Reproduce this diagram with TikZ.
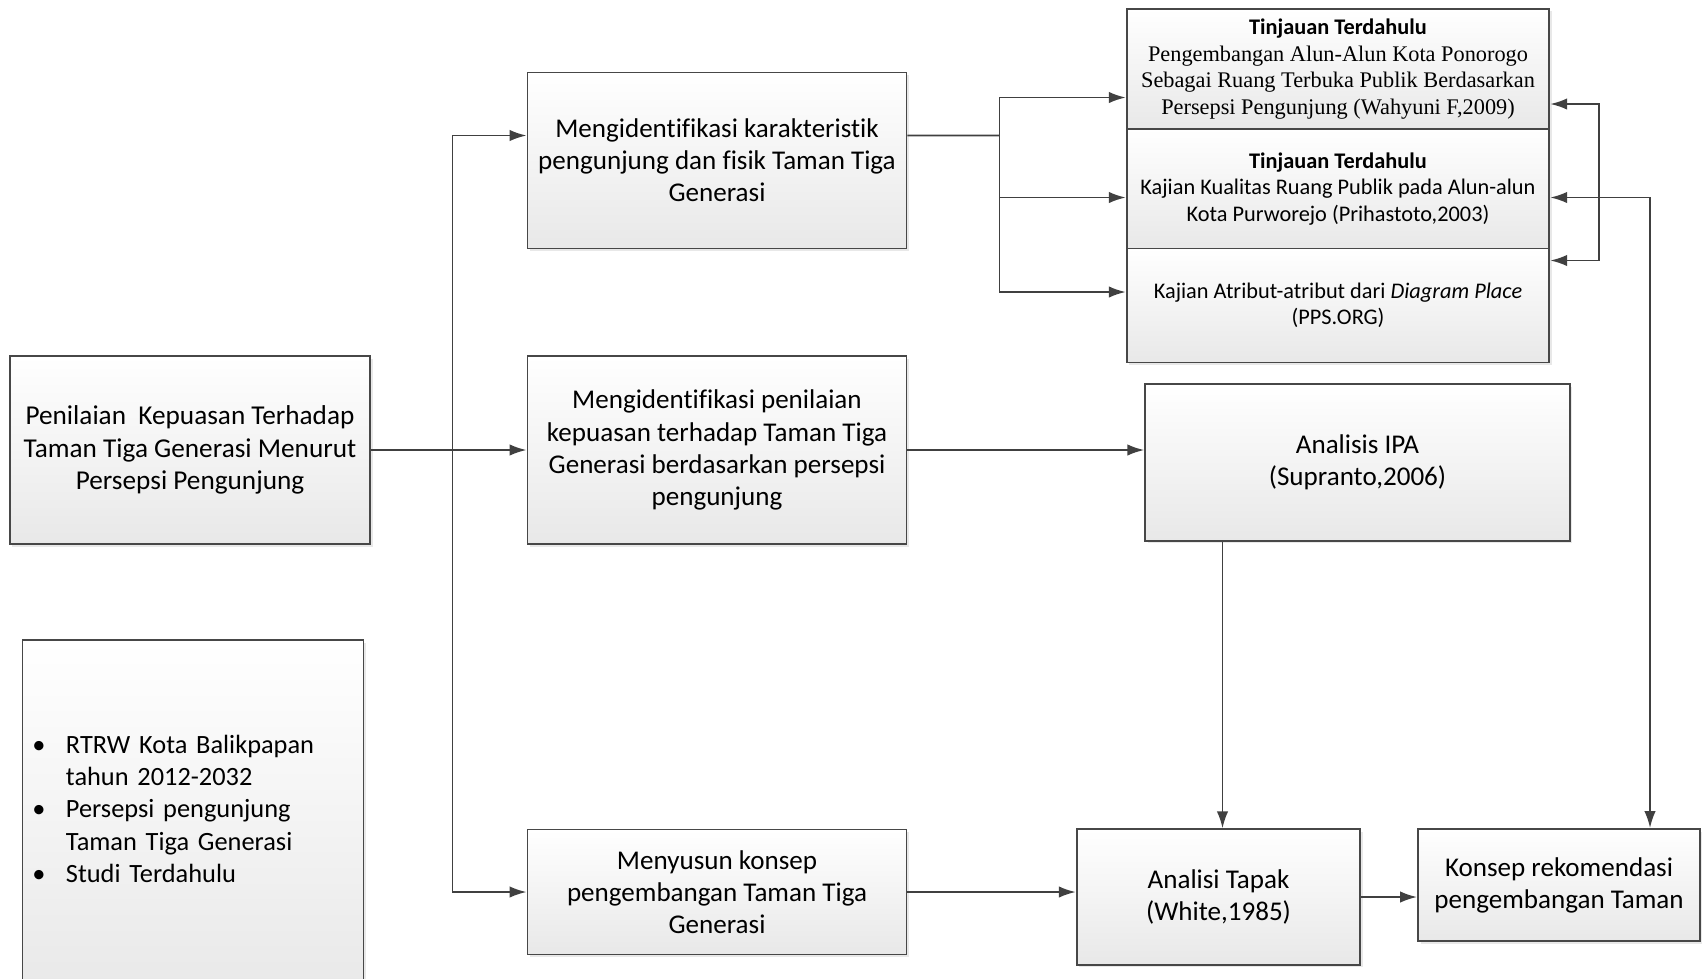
\documentclass[tikz,border=0pt]{standalone}
\usepackage{fontspec}
\setmainfont{Carlito}[Ligatures=NoCommon]
\newfontfamily\timesfont{Liberation Serif}
\usetikzlibrary{arrows.meta,shadows}

\tikzset{
  box/.style={draw=black!72, line width=1.1pt, top color=white, bottom color=black!9,
    inner sep=0pt, align=center, drop shadow={opacity=0.18, shadow xshift=0.05cm, shadow yshift=-0.05cm},
    font=\fontsize{15.4}{18.3}\selectfont},
  smallbox/.style={box, font=\fontsize{12.7}{15.1}\selectfont},
  arr/.style={draw=black!75, line width=1.1pt, -{Latex[length=0.34cm,width=0.23cm]}},
  twoarr/.style={draw=black!75, line width=1.1pt, {Latex[length=0.34cm,width=0.23cm]}-{Latex[length=0.34cm,width=0.23cm]}},
  line/.style={draw=black!75, line width=1.1pt}
}

\begin{document}
\begin{tikzpicture}
\useasboundingbox (0,0) rectangle (34.04,-19.56);
\node[box, minimum width=7.21cm, minimum height=3.76cm, font=\fontsize{15.5}{18.3}\selectfont] (A) at (3.80,-9.00) {Penilaian\ \ Kepuasan Terhadap\\Taman Tiga Generasi Menurut\\Persepsi Pengunjung};
\node[box, minimum width=6.82cm, minimum height=7.19cm, align=left, text width=6.42cm, text depth=3.02cm, font=\fontsize{15}{18.3}\selectfont] (B) at (3.86,-16.40) {\makebox[0.67cm][l]{\textbullet}RTRW Kota Balikpapan\\\hspace*{0.67cm}tahun 2012-2032\\\makebox[0.67cm][l]{\textbullet}Persepsi pengunjung\\\hspace*{0.67cm}Taman Tiga Generasi\\\makebox[0.67cm][l]{\textbullet}Studi Terdahulu};
\node[box, minimum width=7.58cm, minimum height=3.52cm] (C) at (14.34,-3.21) {Mengidentifikasi karakteristik\\pengunjung dan fisik Taman Tiga\\Generasi};
\node[box, minimum width=7.58cm, minimum height=3.76cm] (D) at (14.34,-9.00) {Mengidentifikasi penilaian\\kepuasan terhadap Taman Tiga\\Generasi berdasarkan persepsi\\pengunjung};
\node[box, minimum width=7.58cm, minimum height=2.50cm] (E) at (14.34,-17.84) {Menyusun konsep\\pengembangan Taman Tiga\\Generasi};
\node[smallbox, minimum width=8.45cm, minimum height=2.41cm] (F) at (26.76,-1.38) {\textbf{Tinjauan Terdahulu}\\{\timesfont Pengembangan Alun-Alun Kota Ponorogo}\\{\timesfont Sebagai Ruang Terbuka Publik Berdasarkan}\\{\timesfont Persepsi Pengunjung (Wahyuni F,2009)}};
\node[smallbox, minimum width=8.45cm, minimum height=2.39cm] (G) at (26.76,-3.78) {\textbf{Tinjauan Terdahulu}\\Kajian Kualitas Ruang Publik pada Alun-alun\\Kota Purworejo (Prihastoto,2003)};
\node[smallbox, minimum width=8.45cm, minimum height=2.28cm] (H) at (26.76,-6.11) {Kajian Atribut-atribut dari \textit{Diagram Place}\\(PPS.ORG)};
\node[box, minimum width=8.49cm, minimum height=3.13cm] (I) at (27.15,-9.25) {Analisis IPA\\(Supranto,2006)};
\node[box, minimum width=5.67cm, minimum height=2.71cm] (J) at (24.37,-17.94) {Analisi Tapak\\(White,1985)};
\node[box, minimum width=5.64cm, minimum height=2.24cm] (K) at (31.18,-17.70) {Konsep rekomendasi\\pengembangan Taman};
\coordinate (bus) at (9.05,-9.00);
\coordinate (fork) at (19.99,-2.71);
\draw[arr] (A.east) -- (D.west);
\draw[arr] (bus) |- ([yshift=0.50cm]C.west);
\draw[arr] (bus) |- (E.west);
\draw[line] ([yshift=0.50cm]C.east) -- (fork);
\draw[arr] (fork) |- ([yshift=-0.57cm]F.west);
\draw[arr] (fork) |- ([yshift=-0.17cm]G.west);
\draw[arr] (fork) |- ([yshift=0.27cm]H.west);
\draw[arr] (D.east) -- (D.east -| I.west);
\draw[arr] ([xshift=0.08cm]J.north |- I.south) -- ([xshift=0.08cm]J.north);
\draw[arr] (E.east) -- (E.east -| J.west);
\draw[arr] (J.east) -- (J.east -| K.west);
\draw[twoarr] ([yshift=-0.70cm]F.east) -| (31.98,-3.0) |- ([yshift=0.90cm]H.east);
\draw[twoarr] ([yshift=-0.17cm]G.east) -| ([xshift=1.82cm]K.north);
\end{tikzpicture}
\end{document}
